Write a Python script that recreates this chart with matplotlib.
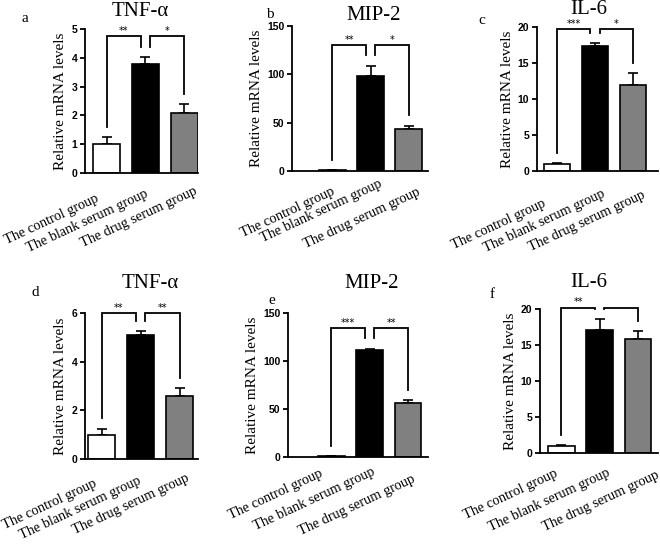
import numpy as np
import matplotlib.pyplot as plt
import matplotlib.transforms as mtransforms

plt.rcParams['font.family'] = ['Liberation Serif', 'DejaVu Serif']

groups = ["The control group", "The blank serum group", "The drug serum group"]
titles = ["TNF-α", "MIP-2", "IL-6", "TNF-α", "MIP-2", "IL-6"]
letters = ["a", "b", "c", "d", "e", "f"]

# bar means and upper error (SD) per panel
means_a = [1.0, 3.8, 2.1]
errs_a = [0.25, 0.22, 0.30]
means_b = [1.0, 98.0, 43.0]
errs_b = [0.3, 11.0, 4.0]
means_c = [1.0, 17.4, 11.9]
errs_c = [0.1, 0.4, 1.7]
means_d = [1.0, 5.1, 2.6]
errs_d = [0.25, 0.15, 0.30]
means_e = [1.0, 111.0, 56.0]
errs_e = [0.2, 2.0, 3.0]
means_f = [1.0, 17.1, 15.9]
errs_f = [0.1, 1.5, 1.0]

ymax = [5, 150, 20, 6, 150, 20]
ystep = [1, 50, 5, 2, 50, 5]
bracket_top = [4.75, 130, 19.7, 6.0, 134, 20.2]
stars = [("**", "*"), ("**", "*"), ("***", "*"), ("**", "**"), ("***", "**"), ("**", "")]

means = [means_a, means_b, means_c, means_d, means_e, means_f]
errs = [errs_a, errs_b, errs_c, errs_d, errs_e, errs_f]
colors = ["white", "black", "#808080"]

W, H = 660, 546
# axes boxes in pixels: left, top, right, bottom
boxes = [(85, 29, 198, 173), (292, 26, 428, 171), (537, 27, 658, 171),
         (85, 313, 198, 459), (288, 313, 428, 457), (540, 309, 658, 453)]
xlims = [(-0.56, 2.36), (-1.05, 2.5), (-0.53, 2.66), (-0.43, 2.47), (-1.12, 2.52), (-0.55, 2.52)]
# baseline-right point of each tick label, pixels (right, down) from tick / axis
lab_dx = [(-7, 3, 14), (3, 12, 12), (-11, 11, 13), (-4, 1, 10), (-8, 6, 8), (-3, 11, 22)]
lab_dy = [(28, 23, 21), (23, 15, 24), (35, 25, 27), (27, 24, 22), (19, 17, 25), (23, 22, 25)]
title_xy = [(140, 12), (374, 15), (589, 10), (150, 283), (372, 283), (589, 282)]
letter_xy = [(25, 18), (270, 15), (482, 21), (35, 293), (272, 300), (492, 295)]

fig = plt.figure(figsize=(6.6, 5.46), dpi=100)

for i in range(6):
    l, t, r, b = boxes[i]
    ax = fig.add_axes([l / W, 1 - b / H, (r - l) / W, (b - t) / H])
    x = np.arange(3)
    ax.bar(x, means[i], width=0.7, color=colors, edgecolor="black", linewidth=1.2, zorder=2)
    ax.errorbar(x, means[i], yerr=[[0, 0, 0], errs[i]], fmt="none", ecolor="black",
                elinewidth=1.2, capsize=3.5, capthick=1.2, zorder=1)
    ax.set_xlim(*xlims[i])
    ax.set_ylim(0, ymax[i])
    ax.set_yticks(np.arange(0, ymax[i] + ystep[i] / 2, ystep[i]))
    for sp in ["top", "right"]:
        ax.spines[sp].set_visible(False)
    for sp in ["left", "bottom"]:
        ax.spines[sp].set_linewidth(1.3)
    ax.tick_params(axis="y", direction="out", length=3.5, width=1.3, pad=2)
    ax.tick_params(axis="x", length=0, pad=0)
    for lab in ax.get_yticklabels():
        lab.set_family("Liberation Sans")
        lab.set_weight("bold")
        lab.set_fontsize(7.5)
    ax.set_xticks(x)
    ax.set_xticklabels(groups, rotation=25, ha="right", va="baseline",
                       rotation_mode="anchor", fontsize=10.3)
    for k, lab in enumerate(ax.get_xticklabels()):
        off = mtransforms.ScaledTranslation(lab_dx[i][k] / 100, -lab_dy[i][k] / 100,
                                            fig.dpi_scale_trans)
        lab.set_transform(lab.get_transform() + off)
    ax.set_ylabel("Relative mRNA levels", fontsize=11, labelpad=3)

    # significance brackets
    gap = 0.07 * ymax[i]
    tops = [m + e + gap for m, e in zip(means[i], errs[i])]
    yb = bracket_top[i]
    ax.plot([0, 0, 0.88, 0.88], [tops[0], yb, yb, tops[1]], color="black", lw=1.3,
            clip_on=False, solid_joinstyle="miter")
    ax.plot([1.12, 1.12, 2, 2], [tops[1], yb, yb, tops[2]], color="black", lw=1.3,
            clip_on=False, solid_joinstyle="miter")
    ax.annotate(stars[i][0], (0.44, yb), xytext=(0, 1.5), textcoords="offset points",
                ha="center", va="baseline", fontsize=7, family="DejaVu Sans",
                annotation_clip=False)
    ax.annotate(stars[i][1], (1.56, yb), xytext=(0, 1.5), textcoords="offset points",
                ha="center", va="baseline", fontsize=7, family="DejaVu Sans",
                annotation_clip=False)

    fig.text(title_xy[i][0] / W, 1 - title_xy[i][1] / H, titles[i], ha="center",
             va="center", fontsize=15)
    fig.text(letter_xy[i][0] / W, 1 - letter_xy[i][1] / H, letters[i], ha="center",
             va="center", fontsize=11)

fig.savefig("out.png", dpi=100)
